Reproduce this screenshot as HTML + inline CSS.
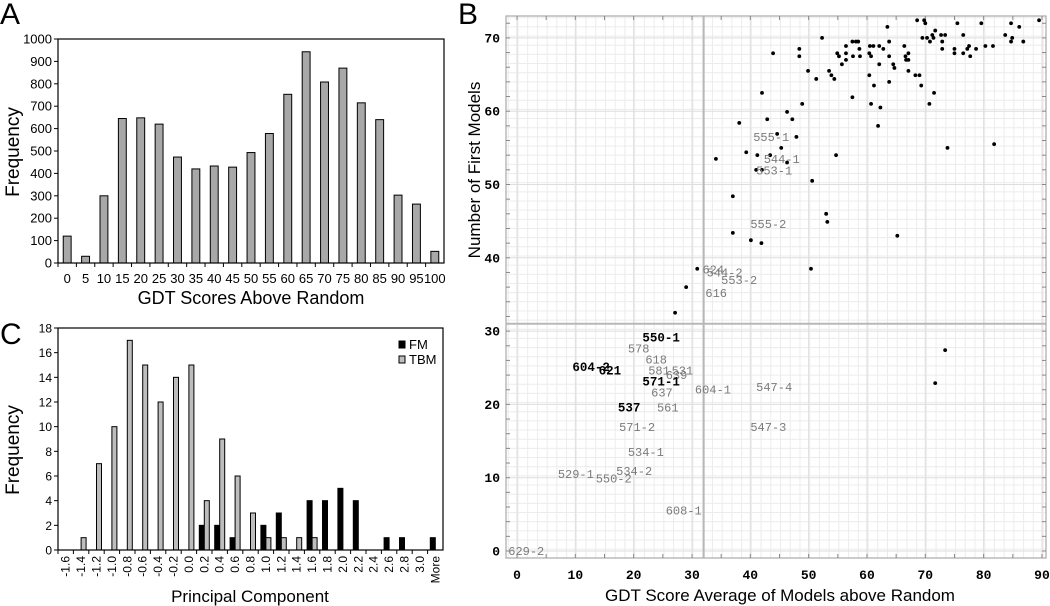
<!DOCTYPE html>
<html><head><meta charset="utf-8"><style>
body{margin:0;background:#fff;}
svg{display:block;font-family:"Liberation Sans",sans-serif;}
.mono{font-family:"Liberation Mono",monospace;}
</style></head><body>
<svg id="fig" width="1050" height="606" viewBox="0 0 1050 606">
<text x="0" y="24" font-size="30">A</text>
<text x="458" y="24" font-size="30">B</text>
<text x="0" y="344" font-size="30">C</text>
<g id="pa"></g>
<g id="pb"></g>
<g id="pc"></g>
</svg>
<script>
// Panel A data
const aCategories=["0","5","10","15","20","25","30","35","40","45","50","55","60","65","70","75","80","85","90","95","100"];
const aValues=[120,30,300,645,648,620,473,420,433,428,493,578,753,943,808,870,715,640,303,263,52];
const aTicks=[0,100,200,300,400,500,600,700,800,900,1000];
// Panel C data
const cCategories=["-1.6","-1.4","-1.2","-1.0","-0.8","-0.6","-0.4","-0.2","0.0","0.2","0.4","0.6","0.8","1.0","1.2","1.4","1.6","1.8","2.0","2.2","2.4","2.6","2.8","3.0","More"];
const cFM=[0,0,0,0,0,0,0,0,0,2,2,1,0,2,3,0,4,4,5,4,0,1,1,0,1];
const cTBM=[0,1,7,10,17,15,12,14,15,4,9,6,3,1,1,1,1,0,0,0,0,0,0,0,0];
const cTicks=[0,2,4,6,8,10,12,14,16,18];
// Panel B data
const bXTicks=[0,10,20,30,40,50,60,70,80,90];
const bYTicks=[0,10,20,30,40,50,60,70];
const bPtsX=[89.5,68.6,69.8,70,75.5,79.6,84.7,86.1,63.5,71.7,71.2,72.7,73.4,76.5,83.7,52.3,69.5,70.3,71.4,84.9,57.5,58.1,58.5,63.8,70.8,72.9,84.7,86.8,56.4,60.5,61.1,62.1,66.4,77.5,80.3,81.6,58.7,62.8,72.9,75,77.2,78.7,48.4,43.9,54.9,56.4,60.4,67.1,75,76.5,48.4,55.2,57.6,58.8,60.7,63.8,66.6,77.7,56.4,66.7,67.1,55.7,62.1,64.5,64.7,49.9,53.5,67.1,53.9,60.4,68.3,69,51.3,54.4,63.8,61.2,69.3,42,71.5,57.5,48.9,60.7,70.7,62.3,46.3,38.1,42.9,47.2,61.9,44.6,47.9,45.3,73.8,81.8,39.3,41.2,43.4,54.7,34.1,46.3,41,42,50.6,37,37,40.1,41.9,53,53.2,65.2,50.4,30.9,29,27.1,73.4,71.7];
const bPtsY=[72.4,72.4,72.4,72,72,72,72,71.5,71.5,71,70.4,70.4,70.4,70.4,70.4,70,70,70,70,70,69.5,69.5,69.5,69.5,69.5,69.5,69.5,69.5,68.9,68.9,68.9,68.9,68.9,68.9,68.9,68.9,68.5,68.5,68.5,68.5,68.5,68.5,68.5,67.9,67.9,67.9,67.9,67.9,67.9,67.9,67.5,67.5,67.5,67.5,67.5,67.5,67.5,67.5,67,67,67,66.4,66.4,66.4,65.9,65.5,65.5,65.5,64.9,64.9,64.9,64.9,64.4,64.4,64,63.5,63.5,62.5,62.5,61.9,61,61,61,60.5,59.9,58.4,58.9,58.9,58,56.9,56.5,55,55,55.5,54.4,54,54,54,53.5,53,52,52,50.5,48.4,43.4,42.4,42,46,44.9,43,38.5,38.5,36,32.5,27.4,22.9];
const bLabels=["550-1","578","618","604-2","621","581","531","639","571-1","637","604-1","547-4","537","561","571-2","547-3","534-1","529-1","550-2","534-2","608-1","629-2","555-1","544-1","553-1","555-2","624","544-2","553-2","616"];
const bLabX=[21.5,19,22,9.5,14,22.5,26.5,25.5,21.5,23,30.5,41,17.3,24,17.5,40,19,7,13.5,17,25.5,-1.5,40.5,42.3,41,40,31.8,32.5,35,32.3];
const bLabY=[29.1,27.6,26.1,25.1,24.6,24.6,24.6,24,23.1,21.6,22,22.4,19.6,19.6,16.9,16.9,13.5,10.5,9.9,10.9,5.5,0,56.5,53.5,51.9,44.6,38.4,38,37,35.2];
const bBold=[1,0,0,1,1,0,0,0,1,0,0,0,1,0,0,0,0,0,0,0,0,0,0,0,0,0,0,0,0,0];

const NS="http://www.w3.org/2000/svg";
function mk(p,tag,attrs,txt){const e=document.createElementNS(NS,tag);for(const k in attrs)e.setAttribute(k,attrs[k]);if(txt!==undefined)e.textContent=txt;p.appendChild(e);return e;}

// ---- Panel A ----
(function(){
const g=document.getElementById('pa');
const L=58,R=444,T=39,B=263,max=1000;
const y=v=>B-(v/max)*(B-T);
const cw=(R-L)/aCategories.length;
const x=i=>L+cw*(i+0.5);
for(const t of aTicks){
 const tl=mk(g,'line',{x1:L-4,x2:L,y1:y(t),y2:y(t),stroke:'#000'});
 
 
 const lb=mk(g,'text',{x:L-6,y:y(t)+4.5,'font-size':13,'text-anchor':'end'},t);
 
 
}
aCategories.forEach((c,i)=>{
 const bw=cw*0.43;
 const r=mk(g,'rect',{x:x(i)-bw/2,y:y(aValues[i]),width:bw,height:B-y(aValues[i]),fill:'#a8a8a8',stroke:'#000','stroke-width':1});
 
 
 mk(g,'line',{x1:L+cw*i,x2:L+cw*i,y1:B,y2:B+4,stroke:'#000'});
 const lb=mk(g,'text',{x:x(i),y:B+20,'font-size':13,'text-anchor':'middle'},c);
 
 
});
const fr=mk(g,'rect',{x:L,y:T,width:R-L,height:B-T,fill:'none',stroke:'#000','stroke-width':1.2});


const xt=mk(g,'text',{x:(L+R)/2,y:304,'font-size':18,'text-anchor':'middle'},'GDT Scores Above Random');


const yt=mk(g,'text',{x:0,y:0,'font-size':19,'text-anchor':'middle',transform:'translate(19,152) rotate(-90)'},'Frequency');


})();

// ---- Panel C ----
(function(){
const g=document.getElementById('pc');
const L=58,R=443,T=328,B=550,max=18;
const y=v=>B-(v/max)*(B-T);
const cw=(R-L)/cCategories.length;
const x=i=>L+cw*(i+0.5);
for(const t of cTicks){
 mk(g,'line',{x1:L-4,x2:L,y1:y(t),y2:y(t),stroke:'#000'});
 const lb=mk(g,'text',{x:L-6,y:y(t)+4.5,'font-size':12,'text-anchor':'end'},t);
 
 
}
cCategories.forEach((c,i)=>{
 const bw=5;
 if(cFM[i]>0){
  const r=mk(g,'rect',{x:x(i)-bw,y:y(cFM[i]),width:bw,height:B-y(cFM[i]),fill:'#000',stroke:'#000'});
  
  
 }
 if(cTBM[i]>0){
  const r=mk(g,'rect',{x:x(i),y:y(cTBM[i]),width:bw,height:B-y(cTBM[i]),fill:'#bdbdbd',stroke:'#000'});
  
  
 }
 mk(g,'line',{x1:L+cw*i,x2:L+cw*i,y1:B,y2:B+4,stroke:'#000'});
 const lb=mk(g,'text',{x:0,y:0,'font-size':12,'text-anchor':'end',transform:`translate(${x(i)+4},${B+6}) rotate(-90)`},c);
 
 
});
const fr=mk(g,'rect',{x:L,y:T,width:R-L,height:B-T,fill:'none',stroke:'#000','stroke-width':1.2});


const lg=mk(g,'g',{});


mk(lg,'rect',{x:399,y:341,width:6,height:7,fill:'#000',stroke:'#000'});
mk(lg,'text',{x:409,y:349,'font-size':13},'FM');
mk(lg,'rect',{x:399,y:356,width:6,height:7,fill:'#bdbdbd',stroke:'#000'});
mk(lg,'text',{x:409,y:364,'font-size':13},'TBM');
const xt=mk(g,'text',{x:250,y:602,'font-size':17,'text-anchor':'middle'},'Principal Component');


const yt=mk(g,'text',{x:0,y:0,'font-size':19,'text-anchor':'middle',transform:'translate(19,450) rotate(-90)'},'Frequency');


})();

// ---- Panel B ----
(function(){
const g=document.getElementById('pb');
const L=506,R=1046,T=16,B=558;
const x=v=>517+v*5.833;
const y=v=>551-v*7.33;
// minor grid
for(let v=-1.5;v<=92;v+=1.667){const px=x(v);if(px>L&&px<R)mk(g,'line',{x1:px,x2:px,y1:T,y2:B,stroke:'#ececec','stroke-width':1});}
for(let v=-1;v<=73;v+=1.25){const py=y(v);if(py>T&&py<B)mk(g,'line',{x1:L,x2:R,y1:py,y2:py,stroke:'#ececec','stroke-width':1});}
for(const t of bXTicks){mk(g,'line',{x1:x(t),x2:x(t),y1:T,y2:B,stroke:'#dedede'});}
for(const t of bYTicks){mk(g,'line',{x1:L,x2:R,y1:y(t),y2:y(t),stroke:'#dedede'});}
// quadrant lines
const qv=mk(g,'line',{x1:x(32),x2:x(32),y1:T,y2:B,stroke:'#b8b8b8','stroke-width':2});


const qh=mk(g,'line',{x1:L,x2:R,y1:y(31),y2:y(31),stroke:'#b8b8b8','stroke-width':2});


const fr=mk(g,'rect',{x:L,y:T,width:R-L,height:B-T,fill:'none',stroke:'#aaa','stroke-width':1.2});


for(let v=0;v<=72;v+=2){mk(g,'line',{x1:L,x2:L+4,y1:y(v),y2:y(v),stroke:'#888'});mk(g,'line',{x1:R-4,x2:R,y1:y(v),y2:y(v),stroke:'#888'});}
for(let v=0;v<=90;v+=5){mk(g,'line',{x1:x(v),x2:x(v),y1:B,y2:B-4,stroke:'#888'});mk(g,'line',{x1:x(v),x2:x(v),y1:T,y2:T+4,stroke:'#888'});}
for(const t of bXTicks){
 const lb=mk(g,'text',{x:x(t),y:579,'font-size':13,'font-weight':'bold','text-anchor':'middle','class':'mono'},t);
 
 
}
for(const t of bYTicks){
 const lb=mk(g,'text',{x:500,y:y(t)+4.5,'font-size':13,'font-weight':'bold','text-anchor':'end','class':'mono'},t);
 
 
}
bPtsX.forEach((v,i)=>{
 const c=mk(g,'circle',{cx:x(v),cy:y(bPtsY[i]),r:1.9,fill:'#000'});
 
 
});
bLabels.forEach((s,i)=>{
 const t=mk(g,'text',{x:x(bLabX[i]),y:y(bLabY[i])+4,'font-size':bBold[i]?12.5:12,'font-weight':bBold[i]?'bold':'normal',fill:bBold[i]?'#000':'#7a7a7a','class':'mono'},s);
 
 
});
const xt=mk(g,'text',{x:780,y:601,'font-size':17,'text-anchor':'middle'},'GDT Score Average of Models above Random');


const yt=mk(g,'text',{x:0,y:0,'font-size':17,'text-anchor':'middle',transform:'translate(480,170) rotate(-90)'},'Number of First Models');


})();
</script>
</body></html>
